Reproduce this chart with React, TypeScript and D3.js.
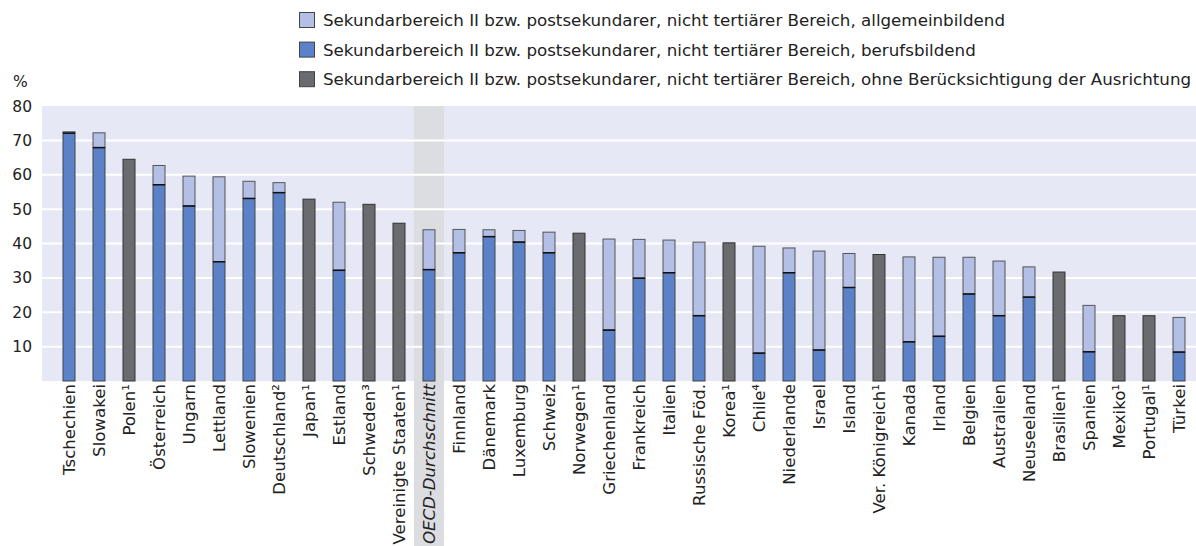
import React from "react";
import * as d3 from "d3";

const categories = [
  "Tschechien", "Slowakei", "Polen¹", "Österreich", "Ungarn", "Lettland", "Slowenien",
  "Deutschland²", "Japan¹", "Estland", "Schweden³", "Vereinigte Staaten¹", "OECD-Durchschnitt",
  "Finnland", "Dänemark", "Luxemburg", "Schweiz", "Norwegen¹", "Griechenland", "Frankreich",
  "Italien", "Russische Föd.", "Korea¹", "Chile⁴", "Niederlande", "Israel", "Island",
  "Ver. Königreich¹", "Kanada", "Irland", "Belgien", "Australien", "Neuseeland", "Brasilien¹",
  "Spanien", "Mexiko¹", "Portugal¹", "Türkei",
];

// berufsbildend (vocational)
const vocational = [
  72.1, 67.9, 0, 57.1, 50.9, 34.7, 53.1, 54.8, 0, 32.2, 0, 0, 32.4,
  37.3, 42.0, 40.4, 37.3, 0, 14.8, 29.9, 31.5, 19.0, 0, 8.1, 31.5, 9.0, 27.2,
  0, 11.4, 13.0, 25.3, 19.0, 24.4, 0, 8.5, 0, 0, 8.4,
];
// allgemeinbildend (general) — stacked on top
const general = [
  0.4, 4.3, 0, 5.6, 8.7, 24.7, 5.0, 2.9, 0, 19.8, 0, 0, 11.6,
  6.8, 2.0, 3.4, 6.0, 0, 26.5, 11.3, 9.5, 21.4, 0, 31.1, 7.2, 28.8, 9.9,
  0, 24.7, 23.0, 10.7, 15.9, 8.8, 0, 13.5, 0, 0, 10.1,
];
// ohne Berücksichtigung der Ausrichtung (total only)
const noOrientation = [
  0, 0, 64.5, 0, 0, 0, 0, 0, 52.9, 0, 51.4, 45.9, 0,
  0, 0, 0, 0, 43.0, 0, 0, 0, 0, 40.2, 0, 0, 0, 0,
  36.8, 0, 0, 0, 0, 0, 31.7, 0, 19.0, 19.0, 0,
];

const yTicks = [10, 20, 30, 40, 50, 60, 70, 80];
const legendLabels = [
  "Sekundarbereich II bzw. postsekundarer, nicht tertiärer Bereich, allgemeinbildend",
  "Sekundarbereich II bzw. postsekundarer, nicht tertiärer Bereich, berufsbildend",
  "Sekundarbereich II bzw. postsekundarer, nicht tertiärer Bereich, ohne Berücksichtigung der Ausrichtung",
];

const COL_GENERAL = "#b3bfe5";
const COL_VOC = "#5b82c9";
const COL_NONE = "#6a6b6f";
const legendColors = [COL_GENERAL, COL_VOC, COL_NONE];
const FONT = "'DejaVu Sans', Verdana, sans-serif";

export default function App() {
  const W = 1196, H = 546;
  const plotLeft = 42, plotRight = 1196, plotTop = 106, plotBottom = 381;
  const x = d3.scaleBand<string>().domain(categories).range([54, 1194]).paddingInner(0.57).paddingOuter(0.285);
  const step = x.step();
  const y = d3.scaleLinear().domain([0, 80]).range([plotBottom, plotTop]);
  const barW = 12;
  const oecd = "OECD-Durchschnitt";
  const oecdX = (x(oecd) as number) + x.bandwidth() / 2;

  return (
    <svg width={W} height={H} style={{ position: "absolute", left: 0, top: 0, background: "#fff" }} fontFamily={FONT}>
      <rect x={plotLeft} y={plotTop} width={plotRight - plotLeft} height={plotBottom - plotTop} fill="#e6e8f5" />
      <rect x={oecdX - step / 2} y={plotTop} width={step} height={H - plotTop} fill="#dcdde0" />
      {yTicks.map((t) => (
        <g key={t}>
          {t < 80 && <line x1={plotLeft} x2={plotRight} y1={y(t)} y2={y(t)} stroke="#fff" strokeWidth={2} />}
          <text x={32} y={y(t)} dy="0.36em" textAnchor="end" fontSize={15.5} fill="#222">{t}</text>
        </g>
      ))}
      <text x={13} y={87} fontSize={15.5} fill="#222">%</text>

      {categories.map((c, i) => {
        const cx = (x(c) as number) + x.bandwidth() / 2;
        const bx = cx - barW / 2;
        const els = [] as any[];
        if (noOrientation[i] > 0) {
          els.push(<rect key="n" x={bx} y={y(noOrientation[i])} width={barW} height={y(0) - y(noOrientation[i])} fill={COL_NONE} stroke="#333" strokeWidth={1} />);
        } else {
          const v = vocational[i], g = general[i];
          els.push(<rect key="g" x={bx} y={y(v + g)} width={barW} height={y(v) - y(v + g)} fill={COL_GENERAL} stroke="#555" strokeWidth={1} />);
          els.push(<rect key="v" x={bx} y={y(v)} width={barW} height={y(0) - y(v)} fill={COL_VOC} stroke="#444" strokeWidth={1} />);
          els.push(<line key="s" x1={bx} x2={bx + barW} y1={y(v)} y2={y(v)} stroke="#111" strokeWidth={1.5} />);
        }
        return (
          <g key={c}>
            {els}
            <text
              transform={`translate(${cx},384) rotate(-90)`}
              dy="0.36em"
              textAnchor="end"
              fontSize={16.6}
              fill="#222"
              fontStyle={c === oecd ? "italic" : "normal"}
            >
              {c}
            </text>
          </g>
        );
      })}

      {legendLabels.map((l, i) => (
        <g key={l} transform={`translate(299,${12 + i * 29.6})`}>
          <rect x={0.5} y={0.5} width={15} height={15} fill={legendColors[i]} stroke="#444" strokeWidth={1} />
          <text x={24} y={8} dy="0.36em" fontSize={16.7} fill="#222">{l}</text>
        </g>
      ))}
    </svg>
  );
}
